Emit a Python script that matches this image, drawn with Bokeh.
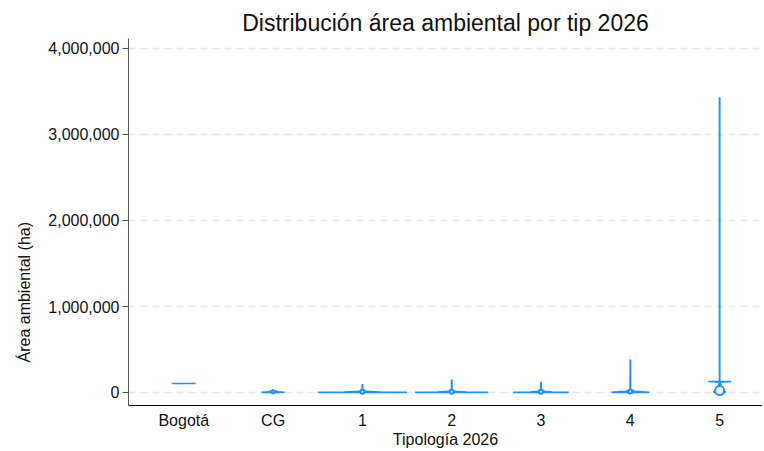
import math
from bokeh.plotting import figure
from bokeh.models import Range1d, FixedTicker, NumeralTickFormatter, Title
from bokeh.embed import file_html
from bokeh.resources import INLINE

# ---- data ----
categories = ["Bogotá", "CG", "1", "2", "3", "4", "5"]

# violin outline profiles: value levels (ha) and density half-widths (category units)
profile_values = [
    [104600, 104600],
    [0, 3000, 8000, 20000, 30000],
    [0, 2000, 6000, 15000, 25000, 90000, 93000],
    [0, 2000, 6000, 15000, 25000, 143000, 147000],
    [0, 2000, 6000, 15000, 25000, 116000, 120000],
    [0, 3000, 8000, 15000, 30000, 375000, 380000],
    [0, 5000, 20000, 60000, 120000, 128000, 130000, 3420000, 3430000],
]
profile_halfwidths = [
    [0.134, 0.134],
    [0.10, 0.13, 0.06, 0.01, 0.0],
    [0.48, 0.50, 0.20, 0.04, 0.003, 0.002, 0.0],
    [0.40, 0.41, 0.16, 0.04, 0.003, 0.002, 0.0],
    [0.30, 0.31, 0.12, 0.04, 0.003, 0.002, 0.0],
    [0.20, 0.21, 0.14, 0.05, 0.003, 0.002, 0.0],
    [0.06, 0.07, 0.05, 0.02, 0.003, 0.13, 0.002, 0.002, 0.0],
]
q1 = [math.nan, 2000, 2000, 2000, 2000, 3000, 5000]
q3 = [math.nan, 12000, 40000, 30000, 25000, 40000, 45000]
medians = [math.nan, 8000, 9000, 10000, 9000, 12000, 23000]

y_ticks = [0, 1000000, 2000000, 3000000, 4000000]

# styling
BLUE = "#1E90FF"
FONT = "Liberation Sans"
median_marker_sizes = [0, 3, 4, 4, 4, 4, 9]

p = figure(
    frame_width=634, frame_height=367,
    x_range=Range1d(-0.619, 6.48), y_range=Range1d(-151163, 4116279),
    output_backend="svg", toolbar_location=None,
    min_border_left=128, min_border_right=0, min_border_top=38, min_border_bottom=46,
)
p.outline_line_color = None
p.background_fill_color = "white"
p.border_fill_color = "white"

p.title.text = "Distribución área ambiental por tip 2026"
p.title.text_font = FONT
p.title.text_font_size = "23px"
p.title.text_font_style = "normal"
p.title.align = "center"
p.title.text_color = "#111111"
p.title.standoff = 5

# violins
xs, ys = [], []
for i, (vals, hws) in enumerate(zip(profile_values, profile_halfwidths)):
    left = [i - h for h in hws]
    right = [i + h for h in reversed(hws)]
    xs.append(left + right)
    ys.append(list(vals) + list(reversed(vals)))
p.patches(xs, ys, fill_color=BLUE, fill_alpha=1.0, line_color=BLUE, line_width=1.6)

idx = list(range(len(categories)))
p.segment(x0=idx, y0=q1, x1=idx, y1=q3, line_color=BLUE, line_width=4)
p.scatter(x=idx, y=medians, marker="circle", size=median_marker_sizes, fill_color="white",
          line_color=BLUE, line_width=2)

# axes
xa = p.xaxis[0]
xa.ticker = FixedTicker(ticks=idx)
xa.major_label_overrides = {i: c for i, c in enumerate(categories)}
xa.major_tick_out = 0
xa.major_tick_in = 0
xa.minor_tick_out = 0
xa.minor_tick_in = 0
xa.axis_line_color = "black"
xa.axis_line_width = 1.2
xa.major_label_text_font = FONT
xa.major_label_text_font_size = "16px"
xa.major_label_text_color = "#111111"
xa.major_label_standoff = 6
xa.axis_label = "Tipología 2026"
xa.axis_label_text_font = FONT
xa.axis_label_text_font_size = "16px"
xa.axis_label_text_font_style = "normal"
xa.axis_label_text_color = "#111111"
xa.axis_label_standoff = -1

ya = p.yaxis[0]
ya.ticker = FixedTicker(ticks=y_ticks)
ya.formatter = NumeralTickFormatter(format="0,0")
ya.major_tick_out = 6
ya.major_tick_in = 0
ya.minor_tick_out = 0
ya.minor_tick_in = 0
ya.axis_line_color = "#555555"
ya.major_tick_line_color = "#555555"
ya.major_label_text_font = FONT
ya.major_label_text_font_size = "16px"
ya.major_label_text_color = "#111111"
ya.major_label_standoff = 3

ytitle = Title(text="Área ambiental (ha)", align="left", offset=43, standoff=26,
               text_font=FONT, text_font_size="16px", text_font_style="normal",
               text_color="#111111")
p.add_layout(ytitle, "left")

p.xgrid.grid_line_color = None
p.ygrid.ticker = FixedTicker(ticks=y_ticks)
p.ygrid.grid_line_color = "#e6e6e6"
p.ygrid.grid_line_dash = "7 5"
p.ygrid.grid_line_width = 1.5

open("out.html", "w").write(file_html(p, INLINE))
